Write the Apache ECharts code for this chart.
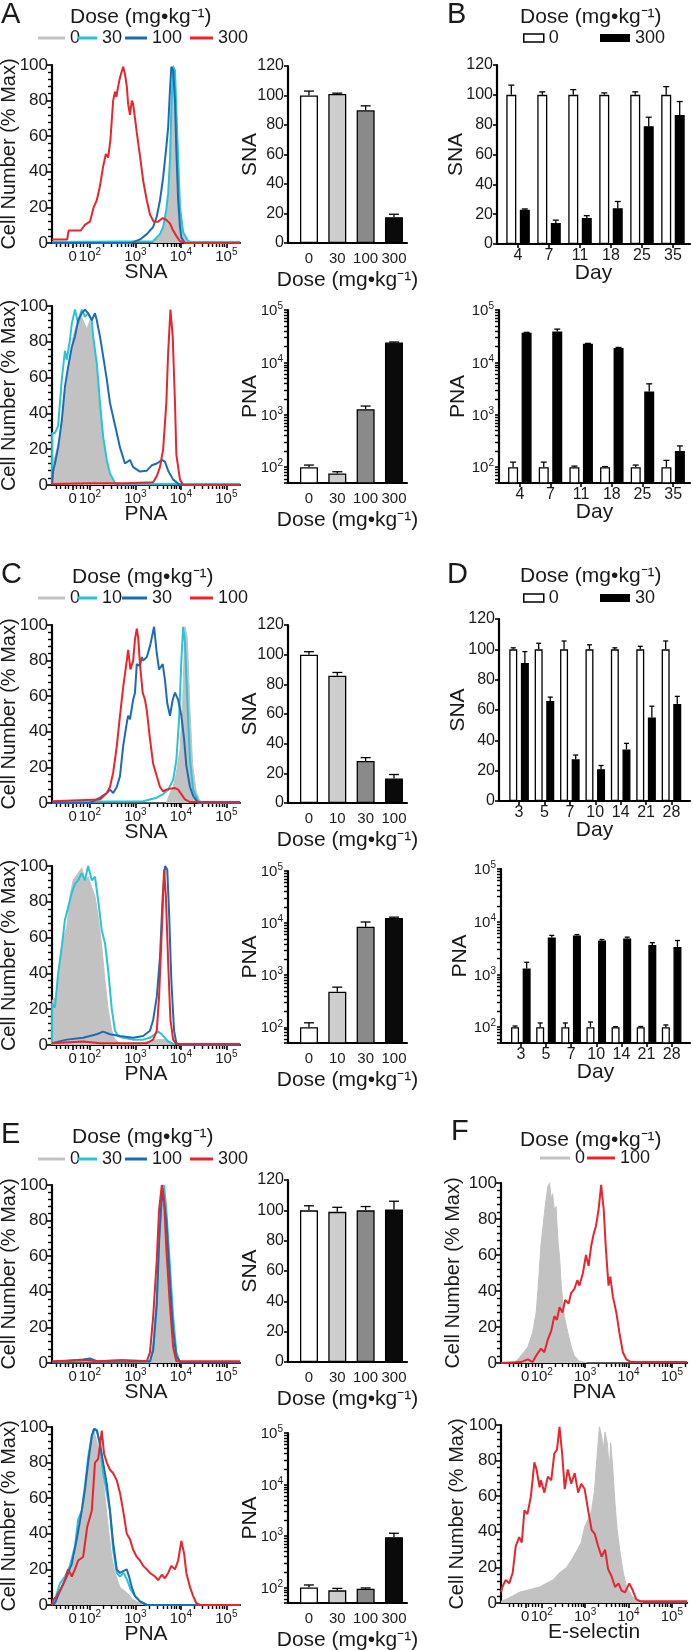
<!DOCTYPE html>
<html><head><meta charset="utf-8">
<script src="https://cdn.jsdelivr.net/npm/echarts@6/dist/echarts.min.js"></script>
<style>html,body{margin:0;padding:0;background:#fff}#c{width:693px;height:1650px}</style>
</head><body><div id="c"></div>
<script>
// ================= DATA =================
// histogram x positions are in log-decade display units (2 = 10^2, 3 = 10^3 ...)
const histTickValues = [1.62, 2, 3, 4, 5];
const histTickLabels = ['0', '10²', '10³', '10⁴', '10⁵'];
const logTickValues = [100, 1000, 10000, 100000];
const logTickLabels = ['10²', '10³', '10⁴', '10⁵'];
const DOSE_LABEL = 'Dose (mg•kg⁻¹)';

// ---- Panel A ----
const aDoses = ['0', '30', '100', '300'];
const aSnaH0 = [[1.165,0],[3.39,0],[3.43,1],[3.54,5],[3.61,9],[3.68,17],[3.72,24],[3.76,39],[3.79,80],[3.83,100],[3.87,94],[3.90,69],[3.94,43],[3.98,20],[4.05,6],[4.12,1],[4.23,0],[5.3,0]];
const aSnaH30 = [[1.165,0.5],[3.39,1],[3.54,5],[3.61,9],[3.68,19],[3.72,28],[3.76,47],[3.79,75],[3.83,99],[3.87,97],[3.90,75],[3.94,47],[3.98,20],[4.05,6],[4.16,1],[4.27,0.5],[5.3,0.5]];
const aSnaH100 = [[1.165,0],[2.90,0],[2.95,0.5],[3.10,2],[3.25,5],[3.39,9],[3.47,15],[3.54,24],[3.61,37],[3.68,54],[3.72,65],[3.76,86],[3.79,99],[3.83,97],[3.87,80],[3.90,52],[3.94,24],[3.98,9],[4.01,3],[4.09,0],[5.3,0]];
const aSnaH300 = [[1.165,2],[1.50,2],[1.53,7],[1.80,7],[1.88,10],[2.0,12],[2.08,20],[2.15,24],[2.22,32],[2.29,43],[2.35,50],[2.40,48],[2.45,58],[2.51,80],[2.55,85],[2.58,82],[2.62,88],[2.66,93],[2.73,99],[2.77,95],[2.81,88],[2.84,78],[2.88,72],[2.92,80],[2.95,78],[2.99,70],[3.03,62],[3.10,49],[3.17,35],[3.25,24],[3.32,16],[3.40,12],[3.50,12],[3.60,14],[3.68,13],[3.76,11],[3.83,7],[3.90,4],[3.98,1],[4.12,0],[5.3,0]];
const aPnaH0 = [[1.165,0],[1.17,14],[1.23,16],[1.34,27],[1.49,57],[1.56,72],[1.63,83],[1.71,90],[1.78,96],[1.85,92],[1.93,87],[2.0,92],[2.07,83],[2.15,66],[2.22,46],[2.29,27],[2.37,14],[2.44,5],[2.51,1],[2.59,0],[5.3,0]];
const aPnaH30 = [[1.165,0],[1.17,29],[1.23,29],[1.30,33],[1.38,59],[1.45,75],[1.49,70],[1.56,81],[1.60,90],[1.67,98],[1.74,90],[1.82,98],[1.89,94],[1.96,96],[2.04,92],[2.07,83],[2.15,68],[2.22,46],[2.29,27],[2.37,14],[2.44,6.5],[2.55,1],[2.66,0.5],[5.3,0.5]];
const aPnaH100 = [[1.165,0],[1.19,8],[1.23,12],[1.30,21],[1.38,36],[1.45,55],[1.52,66],[1.60,77],[1.67,83],[1.74,92],[1.82,96],[1.89,98],[1.96,96],[2.04,92],[2.11,96],[2.15,92],[2.22,83],[2.29,72],[2.37,59],[2.44,46],[2.51,38],[2.59,29],[2.66,21],[2.77,12],[2.88,14],[2.95,10],[3.10,7.5],[3.25,8],[3.36,11],[3.47,12],[3.58,14],[3.65,13],[3.72,8],[3.83,3],[3.98,0],[5.3,0]];
const aPnaH300 = [[1.165,0.5],[2.0,1],[2.8,1],[3.39,1.5],[3.47,5],[3.54,10],[3.61,20],[3.68,46],[3.72,74],[3.77,98],[3.82,83],[3.87,46],[3.90,17],[3.98,3],[4.05,0],[5.3,0]];
const aSnaMean = [100, 101, 90, 17.5];
const aSnaErr = [3, 0.6, 3, 2];
const aPnaMean = [100, 76, 1280, 24000];
const aPnaErr = [10, 6, 190, 500];

// ---- Panel B ----
const bDays = ['4', '7', '11', '18', '25', '35'];
const bSnaCtrl = [100, 100, 100, 100, 100, 100];
const bSnaCtrlErr = [6.5, 2, 3.5, 1.3, 2, 5.5];
const bSnaDose = [23, 14, 17.5, 24, 79, 86.5];
const bSnaDoseErr = [0.5, 2, 1.5, 4.5, 6, 9];
const bPnaCtrl = [100, 100, 100, 100, 100, 100];
const bPnaCtrlErr = [25, 25, 5, 3, 10, 35];
const bPnaDose = [37000, 38700, 22600, 18800, 2800, 205];
const bPnaDoseErr = [500, 4500, 500, 500, 1100, 50];

// ---- Panel C ----
const cDoses = ['0', '10', '30', '100'];
const cSnaH0 = [[1.165,0],[3.68,0],[3.76,5.6],[3.83,9],[3.90,17],[3.98,30],[4.04,58],[4.09,99],[4.14,93],[4.20,52],[4.26,21],[4.34,6],[4.42,1],[4.53,0],[5.3,0]];
const cSnaH10 = [[1.165,0.5],[3.17,1],[3.47,3],[3.61,5],[3.72,7.5],[3.83,13],[3.90,24],[3.96,47],[4.01,80],[4.05,99],[4.09,90],[4.14,58],[4.20,24],[4.27,7.5],[4.38,1],[4.49,0.5],[5.3,0.5]];
const cSnaH30 = [[1.165,0],[2.0,0],[2.22,3],[2.37,5.6],[2.44,7.5],[2.51,5.6],[2.59,9],[2.66,15],[2.73,32],[2.81,45],[2.84,49],[2.88,47],[2.95,58],[2.99,62],[3.03,78],[3.10,77],[3.14,82],[3.17,80],[3.25,82],[3.32,88],[3.41,99],[3.47,84],[3.52,75],[3.60,78],[3.65,69],[3.70,56],[3.76,49],[3.82,58],[3.87,62],[3.94,58],[4.01,49],[4.07,36],[4.12,21],[4.20,9],[4.27,4],[4.38,0],[5.3,0]];
const cSnaH100 = [[1.165,1],[2.22,2],[2.37,5.6],[2.44,9],[2.51,17],[2.59,32],[2.66,49],[2.73,65],[2.81,80],[2.84,86],[2.89,75],[2.95,80],[2.99,92],[3.03,98],[3.06,93],[3.10,78],[3.16,62],[3.21,58],[3.25,52],[3.32,36],[3.39,22],[3.47,15],[3.54,9],[3.61,6.5],[3.68,7.5],[3.76,8],[3.87,8.4],[3.94,7.5],[4.01,5],[4.09,2],[4.20,0.5],[5.3,0.5]];
const cPnaH0 = [[1.165,0],[1.17,25],[1.27,27],[1.34,46],[1.41,59],[1.49,66],[1.56,83],[1.63,92],[1.74,96],[1.82,99],[1.89,92],[1.96,94],[2.04,88],[2.11,83],[2.18,72],[2.26,55],[2.33,36],[2.40,20],[2.48,8],[2.55,3],[2.66,1],[2.95,1],[3.32,2],[3.47,3],[3.65,3],[3.83,1],[3.98,0],[5.3,0]];
const cPnaH10 = [[1.165,0],[1.17,23],[1.23,21],[1.30,40],[1.38,55],[1.45,70],[1.52,77],[1.60,85],[1.67,90],[1.74,92],[1.82,96],[1.89,92],[1.96,100],[2.04,92],[2.11,94],[2.18,81],[2.26,64],[2.33,57],[2.40,42],[2.48,20],[2.55,8],[2.62,5],[2.73,4],[2.95,3],[3.17,3],[3.32,4],[3.43,6],[3.50,7.5],[3.58,6],[3.65,4],[3.72,2],[3.83,0.5],[5.3,0.5]];
const cPnaH30 = [[1.165,1],[1.49,3],[1.85,4],[2.15,6],[2.29,7.5],[2.44,6],[2.66,5],[2.95,4],[3.17,5],[3.32,8],[3.39,14],[3.47,27],[3.54,49],[3.60,83],[3.65,100],[3.70,98],[3.74,74],[3.79,36],[3.85,8],[3.90,1],[4.01,0],[5.3,0]];
const cPnaH100 = [[1.165,1],[1.85,2],[2.22,1],[3.25,1],[3.39,3],[3.47,8],[3.52,27],[3.58,64],[3.63,98],[3.67,83],[3.72,46],[3.77,14],[3.83,3],[3.90,0.5],[5.3,0.5]];
const cSnaMean = [100, 85.8, 28.3, 16.5];
const cSnaErr = [2, 2.2, 2.3, 2.7];
const cPnaMean = [100, 480, 8500, 12500];
const cPnaErr = [22, 110, 2000, 500];

// ---- Panel D ----
const dDays = ['3', '5', '7', '10', '14', '21', '28'];
const dSnaCtrl = [100, 100, 100, 100, 100, 100, 100];
const dSnaCtrlErr = [1, 4, 5.5, 3, 1, 2, 5.5];
const dSnaDose = [91, 66, 27.5, 21, 34, 55, 64];
const dSnaDoseErr = [7.5, 2.5, 2.8, 2.4, 4, 7.5, 5];
const dPnaCtrl = [100, 100, 100, 100, 100, 100, 100];
const dPnaCtrlErr = [5, 20, 20, 25, 2, 3, 10];
const dPnaDose = [1300, 5000, 5500, 4400, 4800, 3600, 3300];
const dPnaDoseErr = [400, 500, 200, 200, 300, 400, 1100];

// ---- Panel E ----
const eDoses = ['0', '30', '100', '300'];
const eSnaH0 = [[1.165,0],[3.32,0],[3.39,4],[3.47,25],[3.52,55],[3.58,90],[3.61,100],[3.65,90],[3.68,70],[3.76,35],[3.83,12],[3.90,3],[3.98,0],[5.3,0]];
const eSnaH30 = [[1.165,0.5],[1.85,1.5],[2.0,2],[2.15,1],[2.8,1],[3.32,0.5],[3.39,9],[3.47,36],[3.52,69],[3.58,95],[3.63,100],[3.68,86],[3.76,54],[3.83,26],[3.90,6],[3.98,0.5],[5.3,0.5]];
const eSnaH100 = [[1.165,0.5],[1.85,2],[2.0,2.5],[2.15,1],[2.8,1.5],[3.32,1],[3.39,7],[3.47,33],[3.52,68],[3.59,98],[3.62,99],[3.68,80],[3.76,45],[3.83,18],[3.90,4],[3.98,0.5],[5.3,0.5]];
const eSnaH300 = [[1.165,1],[1.85,1.5],[2.2,1],[2.7,1.5],[2.9,1],[3.25,1],[3.32,6],[3.39,26],[3.47,58],[3.52,86],[3.58,100],[3.63,92],[3.68,64],[3.76,32],[3.83,9],[3.90,1],[5.3,1]];
const ePnaH0 = [[1.165,0],[1.23,3],[1.34,8],[1.49,16],[1.60,20],[1.67,27],[1.78,46],[1.85,53],[1.93,72],[2.0,87],[2.07,99],[2.13,94],[2.18,89],[2.26,76],[2.33,61],[2.40,44],[2.48,27],[2.55,18],[2.66,10],[2.81,7],[2.95,3],[3.10,1],[3.25,0],[5.3,0]];
const ePnaH30 = [[1.165,0],[1.23,3],[1.34,12],[1.45,16],[1.56,22],[1.67,33],[1.74,48],[1.82,53],[1.89,67],[1.96,83],[2.04,95],[2.11,99],[2.16,98],[2.22,89],[2.29,74],[2.37,63],[2.44,53],[2.51,31],[2.59,18],[2.66,16],[2.74,18],[2.82,14],[2.89,9],[2.99,5],[3.10,2],[3.25,0],[5.3,0]];
const ePnaH100 = [[1.165,0],[1.23,1],[1.34,8],[1.49,16],[1.60,23],[1.71,37],[1.82,53],[1.89,65],[1.96,80],[2.04,95],[2.09,99],[2.15,98],[2.22,91],[2.29,80],[2.37,68],[2.44,53],[2.51,35],[2.59,20],[2.66,18],[2.73,19],[2.81,20],[2.86,16],[2.92,10],[2.99,5],[3.10,2],[3.25,0],[5.3,0]];
const ePnaH300 = [[1.165,0],[1.19,3],[1.27,5],[1.38,10],[1.45,14],[1.52,20],[1.60,16],[1.67,20],[1.74,25],[1.85,27],[1.94,44],[2.04,53],[2.11,80],[2.18,82],[2.26,98],[2.31,85],[2.37,80],[2.44,76],[2.51,74],[2.59,70],[2.66,63],[2.73,53],[2.81,40],[2.88,37],[2.95,31],[3.03,27],[3.10,25],[3.17,22],[3.25,20],[3.32,18],[3.43,16],[3.50,14],[3.58,17],[3.65,15],[3.72,18],[3.79,22],[3.87,20],[3.94,25],[4.01,36],[4.07,29],[4.12,18],[4.20,10],[4.27,5],[4.34,1],[4.42,0],[5.3,0]];
const eSnaMean = [100, 99, 100, 100.5];
const eSnaErr = [3, 3, 2.5, 5.5];
const ePnaMean = [100, 88, 95, 950];
const ePnaErr = [12, 8, 3, 180];

// ---- Panel F ----
const fDoses = ['0', '100'];
const fPnaH0 = [[1.06,0],[1.37,0],[1.52,4],[1.68,9],[1.79,17],[1.87,28],[1.92,43],[1.98,65],[2.06,83],[2.10,91],[2.14,98],[2.18,100],[2.22,91],[2.25,94],[2.29,85],[2.33,87],[2.37,69],[2.41,59],[2.45,43],[2.52,26],[2.60,17],[2.68,9],[2.75,4],[2.87,1],[3.06,0],[5.35,0]];
const fPnaH100 = [[1.06,0],[1.52,0.5],[1.68,2],[1.79,0.5],[1.87,4],[1.98,8],[2.06,6],[2.14,13],[2.22,18],[2.29,26],[2.35,24],[2.41,31],[2.48,28],[2.54,35],[2.62,33],[2.68,39],[2.75,41],[2.82,46],[2.87,43],[2.95,50],[3.02,60],[3.08,54],[3.14,65],[3.20,72],[3.25,76],[3.31,85],[3.37,99],[3.43,85],[3.48,63],[3.54,43],[3.58,48],[3.64,37],[3.72,28],[3.79,17],[3.87,6],[3.95,2],[4.06,0.5],[5.35,0.5]];
const fEselH0 = [[1.06,1],[1.17,2],[1.33,4],[1.48,6],[1.64,7],[1.79,8],[1.95,9],[2.10,11],[2.26,13],[2.41,17],[2.57,20],[2.68,24],[2.80,29],[2.91,34],[2.99,43],[3.07,47],[3.15,52],[3.22,64],[3.28,84],[3.33,99],[3.38,94],[3.42,86],[3.46,96],[3.51,90],[3.56,75],[3.59,90],[3.64,75],[3.69,56],[3.74,41],[3.81,28],[3.88,17],[3.96,9],[4.08,4],[4.19,1],[4.35,0],[5.35,0]];
const fEselH100 = [[1.06,6],[1.09,9],[1.17,13],[1.25,11],[1.33,17],[1.40,32],[1.48,37],[1.54,34],[1.60,52],[1.67,50],[1.75,60],[1.83,79],[1.88,75],[1.95,65],[1.98,69],[2.06,62],[2.14,71],[2.22,69],[2.29,84],[2.35,86],[2.41,99],[2.47,84],[2.53,64],[2.60,75],[2.68,67],[2.76,73],[2.84,62],[2.91,67],[2.99,64],[3.07,52],[3.15,41],[3.22,39],[3.30,32],[3.38,26],[3.46,30],[3.53,19],[3.61,15],[3.69,9],[3.77,11],[3.84,7],[3.92,6],[4.02,11],[4.10,7],[4.18,2],[4.27,1],[5.35,1]];

// ================= STYLE =================
const FONT = '"Liberation Sans", Arial, Helvetica, sans-serif';
const TXT = '#1a1a1a';
const C_GRAY = '#c2c2c2', C_CYAN = '#27c3d9', C_BLUE = '#1d6bb3', C_RED = '#e8252c';
const LINE4 = [C_GRAY, C_CYAN, C_BLUE, C_RED];
const BAR_FILLS = ['#ffffff', '#cdcdcd', '#8a8a8a', '#0a0a0a'];

// superscript tick label rendering via rich text
const SUP = { '²': '2', '³': '3', '⁴': '4', '⁵': '5' };
function richPow(label) {
  const m = label.match(/^(10)([²³⁴⁵])$/);
  return m ? '{b|10}{s|' + SUP[m[2]] + '}' : '{b|' + label + '}';
}
function powRich(size) {
  return { b: { fontSize: size, color: TXT, fontFamily: FONT, lineHeight: size + 2, verticalAlign: 'bottom' },
           s: { fontSize: Math.round(size * 0.68), color: TXT, fontFamily: FONT, lineHeight: Math.round(size * 0.68), verticalAlign: 'top' } };
}

// tick positions (computed, not data)
const histMinorTicks = [1.25, 1.35, 1.45, 1.53, 1.70, 1.78, 1.86, 1.93];
for (let n = 2; n <= 4; n++) for (let k = 2; k <= 9; k++) histMinorTicks.push(n + Math.log10(k));
histMinorTicks.push(5 + Math.log10(2));
const logMinorTicks = [60, 70, 80, 90];
for (let n = 2; n <= 4; n++) for (let k = 2; k <= 9; k++) logMinorTicks.push(k * Math.pow(10, n));

const grids = [], xAxes = [], yAxes = [], series = [], titles = [], legends = [];
function addGrid(box) { grids.push(Object.assign({ show: false, containLabel: false, outerBoundsMode: 'none' }, box)); return grids.length - 1; }
const axLine = { show: true, onZero: false, lineStyle: { color: '#000', width: 2.2 } };
const tickStyle = { color: '#000', width: 1.6 };
const minorStyle = { color: '#000', width: 1.4 };
const nameStyle = { fontSize: 21, color: TXT, fontFamily: FONT };

function histPanel(o) {
  const g = addGrid(o.box);
  const xi = xAxes.length, yi = yAxes.length;
  xAxes.push({ gridIndex: g, type: 'value', min: o.dMin, max: o.dMax, axisLine: axLine,
    axisTick: { show: true, customValues: histTickValues, length: 5, lineStyle: tickStyle },
    axisLabel: { customValues: histTickValues, fontSize: 15, color: TXT, margin: 4, fontFamily: FONT, rich: powRich(15),
      formatter: v => { const k = histTickValues.findIndex(t => Math.abs(t - v) < 1e-6); return k < 0 ? '' : richPow(histTickLabels[k]); } },
    splitLine: { show: false }, name: o.xName, nameLocation: 'middle', nameGap: 19, nameMoveOverlap: false, nameTextStyle: nameStyle });
  yAxes.push({ gridIndex: g, type: 'value', min: 0, max: 100, interval: 20, axisLine: axLine,
    axisTick: { show: true, length: 5, lineStyle: tickStyle },
    minorTick: { show: true, splitNumber: 5, length: 4, lineStyle: minorStyle },
    axisLabel: { fontSize: 17, color: TXT, margin: 4, fontFamily: FONT },
    splitLine: { show: false }, minorSplitLine: { show: false },
    name: 'Cell Number (% Max)', nameLocation: 'middle', nameGap: o.yNameGap, nameMoveOverlap: false,
    nameTextStyle: { fontSize: 20, color: TXT, fontFamily: FONT } });
  const g2 = addGrid(o.box);
  xAxes.push({ gridIndex: g2, type: 'value', min: o.dMin, max: o.dMax, axisLine: { show: false, onZero: false },
    axisLabel: { show: false }, splitLine: { show: false },
    axisTick: { show: true, customValues: histMinorTicks, length: 4, lineStyle: minorStyle } });
  yAxes.push({ gridIndex: g2, type: 'value', min: 0, max: 100, show: false });
  o.curves.forEach((d, i) => {
    const col = o.colors[i];
    const s = { type: 'line', name: o.prefix + '|' + o.names[i], xAxisIndex: xi, yAxisIndex: yi, data: d,
      showSymbol: false, symbol: 'none', silent: true, animation: false, z: 2 + i,
      lineStyle: { color: col, width: i === 0 ? 1 : 2 }, itemStyle: { color: col } };
    if (i === 0) s.areaStyle = { color: col, opacity: 1 };
    series.push(s);
  });
}

function errSeries(xi, yi, mean, err, off, cap) {
  series.push({ type: 'custom', xAxisIndex: xi, yAxisIndex: yi, silent: true, animation: false, z: 6, clip: false,
    encode: { x: 0, y: 1 }, data: mean.map((m, i) => [i, m, err[i]]),
    renderItem: (params, api) => {
      const x = api.value(0), m = api.value(1), e = api.value(2);
      const a = api.coord([x, m]), b = api.coord([x, m + e]);
      const cx = a[0] + off;
      const st = { stroke: '#000', lineWidth: 1.3, fill: null };
      return { type: 'group', children: [
        { type: 'line', shape: { x1: cx, y1: a[1], x2: cx, y2: b[1] }, style: st },
        { type: 'line', shape: { x1: cx - cap / 2, y1: b[1], x2: cx + cap / 2, y2: b[1] }, style: st }] };
    } });
}

function barPanel(o) {
  const g = addGrid(o.box);
  const xi = xAxes.length, yi = yAxes.length;
  const idx = o.cats.map((c, i) => i);
  xAxes.push({ gridIndex: g, type: 'value', min: o.xMin, max: o.xMax, axisLine: axLine,
    axisTick: { show: o.ticks, customValues: idx, length: 4, lineStyle: tickStyle },
    axisLabel: { customValues: idx, formatter: v => o.cats[Math.round(v)], fontSize: o.catSize, color: TXT, margin: o.labelMargin, fontFamily: FONT },
    splitLine: { show: false }, name: o.xName, nameLocation: 'middle', nameGap: o.xNameGap, nameMoveOverlap: false, nameTextStyle: nameStyle });
  const y = { gridIndex: g, axisLine: axLine, axisTick: { show: true, length: 4, lineStyle: tickStyle }, splitLine: { show: false },
    name: o.yName, nameLocation: 'middle', nameGap: o.yNameGap, nameMoveOverlap: false, nameTextStyle: nameStyle };
  if (o.log) {
    Object.assign(y, { type: 'log', logBase: 10, min: 50, max: 100000,
      axisLabel: { fontSize: 15, color: TXT, margin: 5, fontFamily: FONT, rich: powRich(15),
        formatter: v => { const k = logTickValues.findIndex(t => Math.abs(t - v) / t < 1e-6); return k < 0 ? '' : richPow(logTickLabels[k]); } } });
  } else {
    Object.assign(y, { type: 'value', min: 0, max: 120, interval: 20, axisLabel: { fontSize: 16, color: TXT, margin: 4, fontFamily: FONT } });
  }
  yAxes.push(y);
  if (o.log) {
    const g2 = addGrid(o.box);
    xAxes.push({ gridIndex: g2, type: 'value', min: o.xMin, max: o.xMax, show: false });
    yAxes.push({ gridIndex: g2, type: 'log', logBase: 10, min: 50, max: 100000, axisLine: { show: false, onZero: false },
      axisLabel: { show: false }, splitLine: { show: false },
      axisTick: { show: true, customValues: logMinorTicks, length: 4, lineStyle: minorStyle } });
  }
  const n = o.groups.length;
  const gapFrac = parseFloat(o.barGap || '0') / 100;
  o.groups.forEach((gr, k) => {
    series.push({ type: 'bar', name: gr.name, xAxisIndex: xi, yAxisIndex: yi, barWidth: o.barWidth, barGap: o.barGap || '0%',
      clip: true, silent: true, animation: false, z: 3,
      itemStyle: { color: gr.fill || '#fff', borderColor: '#000', borderWidth: 1.3 },
      data: gr.mean.map((m, i) => ({ value: [i, m], itemStyle: gr.fills ? { color: gr.fills[i] } : undefined })) });
    const off = n === 1 ? 0 : (k === 0 ? -1 : 1) * o.barWidth * (1 + gapFrac) / 2;
    errSeries(xi, yi, gr.mean, gr.err, off, o.cap);
  });
}

function addText(text, left, top, size) {
  titles.push({ text, left, top, padding: 0, textStyle: { fontSize: size, fontWeight: 'normal', color: TXT, fontFamily: FONT } });
}
function legendItem(name, left, cy, w, h, style) {
  legends.push({ show: true, left, top: cy - 10, padding: 0, itemWidth: w, itemHeight: h, icon: 'rect', selectedMode: false, itemGap: 0,
    data: [{ name, icon: 'rect', itemStyle: style }], formatter: s => s.split('|')[1],
    textStyle: { fontSize: 18, color: TXT, fontFamily: FONT } });
}

// ================= BUILD =================
const LEFT_H = { left: 52, width: 188 };
histPanel({ box: Object.assign({ top: 65, height: 178 }, LEFT_H), dMin: 1.165, dMax: 5.3, xName: 'SNA', yNameGap: 33, prefix: 'A', names: aDoses, colors: LINE4, curves: [aSnaH0, aSnaH30, aSnaH100, aSnaH300] });
histPanel({ box: Object.assign({ top: 306, height: 179 }, LEFT_H), dMin: 1.165, dMax: 5.3, xName: 'PNA', yNameGap: 33, prefix: 'A', names: aDoses, colors: LINE4, curves: [aPnaH0, aPnaH30, aPnaH100, aPnaH300] });
histPanel({ box: Object.assign({ top: 625, height: 178 }, LEFT_H), dMin: 1.165, dMax: 5.3, xName: 'SNA', yNameGap: 33, prefix: 'C', names: cDoses, colors: LINE4, curves: [cSnaH0, cSnaH10, cSnaH30, cSnaH100] });
histPanel({ box: Object.assign({ top: 866, height: 179 }, LEFT_H), dMin: 1.165, dMax: 5.3, xName: 'PNA', yNameGap: 33, prefix: 'C', names: cDoses, colors: LINE4, curves: [cPnaH0, cPnaH10, cPnaH30, cPnaH100] });
histPanel({ box: Object.assign({ top: 1185, height: 178 }, LEFT_H), dMin: 1.165, dMax: 5.3, xName: 'SNA', yNameGap: 33, prefix: 'E', names: eDoses, colors: LINE4, curves: [eSnaH0, eSnaH30, eSnaH100, eSnaH300] });
histPanel({ box: Object.assign({ top: 1427, height: 178 }, LEFT_H), dMin: 1.165, dMax: 5.3, xName: 'PNA', yNameGap: 33, prefix: 'E', names: eDoses, colors: LINE4, curves: [ePnaH0, ePnaH30, ePnaH100, ePnaH300] });
histPanel({ box: { left: 501, top: 1183, width: 186, height: 180 }, dMin: 1.06, dMax: 5.35, xName: 'PNA', yNameGap: 38, prefix: 'F', names: fDoses, colors: [C_GRAY, C_RED], curves: [fPnaH0, fPnaH100] });
histPanel({ box: { left: 501, top: 1425, width: 186, height: 178 }, dMin: 1.06, dMax: 5.35, xName: 'E-selectin', yNameGap: 34, prefix: 'F', names: fDoses, colors: [C_GRAY, C_RED], curves: [fEselH0, fEselH100] });

const MID = { xMin: -0.74, xMax: 3.46, xName: DOSE_LABEL, xNameGap: 27, labelMargin: 8, ticks: false, catSize: 15, barWidth: 18, cap: 10, yNameGap: 27 };
barPanel(Object.assign({ box: { left: 288, top: 66, width: 119, height: 177 }, cats: aDoses, log: false, yName: 'SNA', groups: [{ name: 'Abar', mean: aSnaMean, err: aSnaErr, fills: BAR_FILLS }] }, MID));
barPanel(Object.assign({ box: { left: 288, top: 310, width: 119, height: 173 }, cats: aDoses, log: true, yName: 'PNA', groups: [{ name: 'Abar', mean: aPnaMean, err: aPnaErr, fills: BAR_FILLS }] }, MID));
barPanel(Object.assign({ box: { left: 288, top: 625, width: 119, height: 178 }, cats: cDoses, log: false, yName: 'SNA', groups: [{ name: 'Cbar', mean: cSnaMean, err: cSnaErr, fills: BAR_FILLS }] }, MID));
barPanel(Object.assign({ box: { left: 288, top: 871, width: 119, height: 172 }, cats: cDoses, log: true, yName: 'PNA', groups: [{ name: 'Cbar', mean: cPnaMean, err: cPnaErr, fills: BAR_FILLS }] }, MID));
barPanel(Object.assign({ box: { left: 288, top: 1180, width: 119, height: 182 }, cats: eDoses, log: false, yName: 'SNA', groups: [{ name: 'Ebar', mean: eSnaMean, err: eSnaErr, fills: BAR_FILLS }] }, MID));
barPanel(Object.assign({ box: { left: 288, top: 1433, width: 119, height: 170 }, cats: eDoses, log: true, yName: 'PNA', groups: [{ name: 'Ebar', mean: ePnaMean, err: ePnaErr, fills: BAR_FILLS }] }, MID));

const RB = { xName: 'Day', xNameGap: 19, labelMargin: 4, ticks: true, catSize: 16, yNameGap: 30 };
barPanel(Object.assign({ box: { left: 497, top: 65, width: 193, height: 179 }, cats: bDays, xMin: -0.68, xMax: 5.55, log: false, yName: 'SNA', barWidth: 10, barGap: '35%', cap: 6,
  groups: [{ name: 'B|0', mean: bSnaCtrl, err: bSnaCtrlErr, fill: '#ffffff' }, { name: 'B|300', mean: bSnaDose, err: bSnaDoseErr, fill: '#000000' }] }, RB));
barPanel(Object.assign({ box: { left: 499, top: 310, width: 191, height: 173 }, cats: bDays, xMin: -0.68, xMax: 5.55, log: true, yName: 'PNA', barWidth: 10, barGap: '35%', cap: 6,
  groups: [{ name: 'B|0', mean: bPnaCtrl, err: bPnaCtrlErr, fill: '#ffffff' }, { name: 'B|300', mean: bPnaDose, err: bPnaDoseErr, fill: '#000000' }] }, RB));
barPanel(Object.assign({ box: { left: 499, top: 619, width: 191, height: 182 }, cats: dDays, xMin: -0.79, xMax: 6.73, log: false, yName: 'SNA', barWidth: 8, barGap: '45%', cap: 5,
  groups: [{ name: 'D|0', mean: dSnaCtrl, err: dSnaCtrlErr, fill: '#ffffff' }, { name: 'D|30', mean: dSnaDose, err: dSnaDoseErr, fill: '#000000' }] }, RB));
barPanel(Object.assign({ box: { left: 501, top: 869, width: 189, height: 174 }, cats: dDays, xMin: -0.79, xMax: 6.73, log: true, yName: 'PNA', barWidth: 8, barGap: '45%', cap: 5,
  groups: [{ name: 'D|0', mean: dPnaCtrl, err: dPnaCtrlErr, fill: '#ffffff' }, { name: 'D|30', mean: dPnaDose, err: dPnaDoseErr, fill: '#000000' }] }, RB));

// panel letters & legend titles
addText('A', 1, 0, 29); addText('B', 447, 0, 29);
addText('C', 1, 560, 29); addText('D', 447, 560, 29);
addText('E', 1, 1120, 29); addText('F', 451, 1117, 29);
addText(DOSE_LABEL, 70, 7, 21); addText(DOSE_LABEL, 520, 7, 21);
addText(DOSE_LABEL, 72, 567, 21); addText(DOSE_LABEL, 520, 566, 21);
addText(DOSE_LABEL, 72, 1127, 21); addText(DOSE_LABEL, 520, 1130, 21);

// legends
const lineLeg = c => ({ color: c, borderWidth: 0 });
[['A', 39, aDoses, [38, 78, 125, 190], [27, 19, 22, 23]], ['C', 599, cDoses, [38, 78, 122, 190], [27, 19, 25, 23]], ['E', 1160, eDoses, [38, 78, 125, 190], [27, 19, 22, 23]]]
  .forEach(([p, cy, names, xs, ws]) => names.forEach((nm, i) => legendItem(p + '|' + nm, xs[i], cy, ws[i], 3, lineLeg(LINE4[i]))));
legendItem('F|0', 540, 1159, 30, 3, lineLeg(C_GRAY));
legendItem('F|100', 587, 1159, 28, 3, lineLeg(C_RED));
legendItem('B|0', 523, 39, 20, 8, { color: '#fff', borderColor: '#000', borderWidth: 1.5 });
legendItem('B|300', 600, 39, 30, 8, { color: '#000', borderWidth: 0 });
legendItem('D|0', 523, 599, 20, 8, { color: '#fff', borderColor: '#000', borderWidth: 1.5 });
legendItem('D|30', 600, 599, 30, 8, { color: '#000', borderWidth: 0 });

const chart = echarts.init(document.getElementById('c'), null, { renderer: 'canvas' });
chart.setOption({
  animation: false, backgroundColor: '#fff',
  textStyle: { fontFamily: FONT, color: TXT },
  title: titles, legend: legends, grid: grids, xAxis: xAxes, yAxis: yAxes, series: series, tooltip: { show: false }
});
</script></body></html>
